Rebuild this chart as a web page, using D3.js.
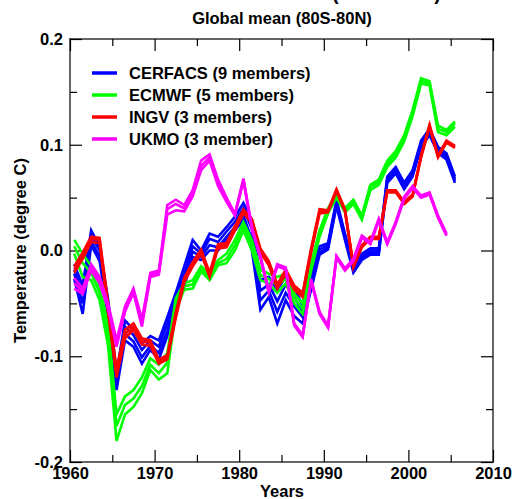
<!DOCTYPE html>
<html lang="en">
<head>
  <meta charset="UTF-8">
  <title>Global mean (80S-80N)</title>
  <script src="https://d3js.org/d3.v7.min.js"></script>
  <style>
    body { margin: 0; background: #fff; }
    text { font-family: Arial, "Liberation Sans", Helvetica, sans-serif; font-weight: bold; }
  </style>
</head>
<body>
<div id="chart"></div>

<script>
  // years (annual means, drawn at mid-year)
  var years = [1960, 1961, 1962, 1963, 1964, 1965, 1966, 1967, 1968, 1969,
    1970, 1971, 1972, 1973, 1974, 1975, 1976, 1977, 1978, 1979,
    1980, 1981, 1982, 1983, 1984, 1985, 1986, 1987, 1988, 1989,
    1990, 1991, 1992, 1993, 1994, 1995, 1996, 1997, 1998, 1999,
    2000, 2001, 2002, 2003, 2004, 2005];

  // CERFACS members (upper edge to lower edge)
  var cerfacs1 = [-0.013, -0.033, 0.019, 0.004, -0.046, -0.116, -0.066, -0.075, -0.088, -0.081,
    -0.085, -0.063, -0.040, -0.015, 0.010, 0.000, 0.016, 0.013, 0.022, 0.032,
    0.045, 0.029, -0.028, -0.025, -0.037, -0.025, -0.035, -0.052, -0.018, 0.004,
    0.007, 0.048, 0.016, -0.015, -0.003, 0.002, 0.002, 0.070, 0.079, 0.064,
    0.076, 0.104, 0.115, 0.098, 0.092, 0.070];
  var cerfacs2 = [-0.018, -0.040, 0.014, 0.000, -0.052, -0.121, -0.072, -0.080, -0.094, -0.085,
    -0.091, -0.069, -0.044, -0.022, 0.004, -0.003, 0.011, 0.008, 0.018, 0.027,
    0.040, 0.020, -0.038, -0.032, -0.048, -0.032, -0.044, -0.058, -0.024, 0.001,
    0.005, 0.046, 0.014, -0.017, -0.005, 0.000, 0.000, 0.068, 0.077, 0.062,
    0.074, 0.102, 0.113, 0.096, 0.090, 0.068];
  var cerfacs3 = [-0.022, -0.050, 0.009, -0.006, -0.058, -0.127, -0.079, -0.086, -0.101, -0.090,
    -0.097, -0.076, -0.049, -0.028, -0.001, -0.006, 0.005, 0.003, 0.013, 0.022,
    0.033, 0.010, -0.047, -0.038, -0.058, -0.040, -0.053, -0.063, -0.031, -0.002,
    0.003, 0.044, 0.012, -0.019, -0.007, -0.002, -0.002, 0.066, 0.075, 0.060,
    0.072, 0.100, 0.111, 0.094, 0.088, 0.066];
  var cerfacs4 = [-0.027, -0.060, 0.005, -0.010, -0.063, -0.132, -0.085, -0.091, -0.107, -0.094,
    -0.103, -0.081, -0.053, -0.034, -0.006, -0.009, 0.000, 0.000, 0.010, 0.019,
    0.029, 0.000, -0.056, -0.044, -0.069, -0.047, -0.062, -0.069, -0.037, -0.004,
    0.001, 0.042, 0.010, -0.021, -0.009, -0.004, -0.004, 0.064, 0.073, 0.058,
    0.070, 0.098, 0.109, 0.092, 0.086, 0.064];

  // ECMWF members
  var ecmwf1 = [0.010, -0.003, -0.015, -0.034, -0.070, -0.155, -0.138, -0.132, -0.120, -0.102,
    -0.108, -0.097, -0.045, -0.031, -0.028, -0.015, -0.022, -0.009, -0.003, 0.010,
    0.027, 0.010, -0.018, -0.022, -0.025, -0.022, -0.041, -0.050, -0.012, 0.019,
    0.040, 0.054, 0.040, 0.048, 0.033, 0.062, 0.067, 0.085, 0.094, 0.109,
    0.133, 0.163, 0.160, 0.118, 0.114, 0.122];
  var ecmwf2 = [0.004, -0.012, -0.021, -0.040, -0.080, -0.166, -0.146, -0.140, -0.128, -0.108,
    -0.116, -0.106, -0.050, -0.034, -0.032, -0.018, -0.025, -0.012, -0.008, 0.005,
    0.023, 0.005, -0.023, -0.027, -0.033, -0.027, -0.045, -0.055, -0.015, 0.016,
    0.038, 0.052, 0.038, 0.046, 0.031, 0.060, 0.065, 0.082, 0.091, 0.106,
    0.130, 0.161, 0.158, 0.115, 0.112, 0.120];
  var ecmwf3 = [-0.003, -0.025, -0.028, -0.047, -0.090, -0.180, -0.155, -0.148, -0.135, -0.113,
    -0.122, -0.116, -0.057, -0.037, -0.036, -0.020, -0.028, -0.014, -0.012, 0.000,
    0.019, 0.000, -0.028, -0.031, -0.040, -0.031, -0.050, -0.060, -0.019, 0.013,
    0.035, 0.050, 0.036, 0.044, 0.029, 0.057, 0.062, 0.079, 0.088, 0.103,
    0.127, 0.158, 0.156, 0.112, 0.109, 0.117];

  // INGV members
  var ingv1 = [-0.018, -0.005, 0.011, 0.010, -0.055, -0.116, -0.079, -0.072, -0.086, -0.087,
    -0.105, -0.101, -0.061, -0.028, -0.013, -0.001, -0.023, 0.004, 0.005, 0.021,
    0.037, 0.028, 0.000, -0.012, -0.034, -0.020, -0.035, -0.042, 0.000, 0.037,
    0.037, 0.057, 0.038, -0.015, 0.004, 0.012, 0.012, 0.056, 0.056, 0.045,
    0.052, 0.089, 0.118, 0.089, 0.103, 0.098];
  var ingv2 = [-0.015, -0.002, 0.013, 0.012, -0.050, -0.112, -0.075, -0.069, -0.083, -0.085,
    -0.103, -0.099, -0.059, -0.026, -0.011, 0.001, -0.021, 0.006, 0.007, 0.023,
    0.039, 0.030, 0.002, -0.010, -0.032, -0.018, -0.033, -0.040, 0.002, 0.039,
    0.038, 0.058, 0.039, -0.014, 0.005, 0.013, 0.013, 0.057, 0.057, 0.046,
    0.053, 0.090, 0.119, 0.090, 0.104, 0.099];
  var ingv3 = [-0.021, -0.008, 0.008, 0.007, -0.059, -0.120, -0.083, -0.075, -0.089, -0.090,
    -0.107, -0.103, -0.064, -0.030, -0.015, -0.003, -0.025, 0.002, 0.003, 0.019,
    0.035, 0.026, -0.002, -0.014, -0.036, -0.022, -0.037, -0.044, -0.002, 0.035,
    0.036, 0.056, 0.037, -0.016, 0.003, 0.011, 0.011, 0.055, 0.055, 0.044,
    0.051, 0.088, 0.117, 0.088, 0.102, 0.097];

  // UKMO members (stop in 2004)
  var ukmo1 = [-0.031, -0.039, -0.016, -0.028, -0.053, -0.088, -0.056, -0.038, -0.068, -0.023,
    -0.021, 0.039, 0.044, 0.040, 0.054, 0.080, 0.088, 0.064, 0.048, 0.034,
    0.067, 0.021, -0.006, -0.039, -0.014, -0.017, -0.070, -0.081, -0.028, -0.059,
    -0.072, -0.006, -0.018, -0.009, 0.013, 0.007, 0.029, 0.007, 0.026, 0.050,
    0.060, 0.051, 0.054, 0.032, 0.015];
  var ukmo2 = [-0.026, -0.036, -0.013, -0.025, -0.050, -0.085, -0.053, -0.036, -0.065, -0.021,
    -0.019, 0.043, 0.048, 0.043, 0.057, 0.085, 0.091, 0.067, 0.050, 0.035,
    0.068, 0.022, -0.005, -0.038, -0.013, -0.016, -0.069, -0.080, -0.027, -0.058,
    -0.071, -0.005, -0.017, -0.008, 0.014, 0.008, 0.030, 0.008, 0.027, 0.051,
    0.061, 0.052, 0.055, 0.033, 0.016];
  var ukmo3 = [-0.036, -0.041, -0.019, -0.031, -0.055, -0.091, -0.058, -0.040, -0.072, -0.025,
    -0.023, 0.034, 0.038, 0.037, 0.051, 0.076, 0.085, 0.061, 0.046, 0.033,
    0.066, 0.020, -0.007, -0.040, -0.015, -0.018, -0.071, -0.082, -0.029, -0.060,
    -0.073, -0.007, -0.019, -0.010, 0.012, 0.006, 0.028, 0.006, 0.025, 0.049,
    0.059, 0.050, 0.053, 0.031, 0.014];

  var models = ["CERFACS (9 members)", "ECMWF (5 members)", "INGV (3 members)", "UKMO (3 member)"];
  var colors = ["#0000ff", "#00ff00", "#ff0000", "#ff00ff"];
  var members = [
    [cerfacs1, cerfacs2, cerfacs3, cerfacs4],
    [ecmwf1, ecmwf2, ecmwf3],
    [ingv1, ingv2, ingv3],
    [ukmo1, ukmo2, ukmo3]
  ];

  var xTicks = [1960, 1970, 1980, 1990, 2000, 2010];
  var xMinor = [1965, 1975, 1985, 1995, 2005];
  var yTicks = [-0.2, -0.1, 0.0, 0.1, 0.2];
  var yMinor = [-0.15, -0.05, 0.05, 0.15];

  // size of the page and of the plot box
  var W = 514, H = 499;
  var margin = { top: 39, right: 21, bottom: 37, left: 70 },
    width = W - margin.left - margin.right,
    height = H - margin.top - margin.bottom;

  var svg = d3.select("#chart")
    .append("svg")
    .attr("width", W)
    .attr("height", H);

  // titles (first line is cut off by the top edge)
  svg.append("text")
    .attr("x", 441)
    .attr("y", 0)
    .attr("text-anchor", "end")
    .style("font-size", "20px")
    .text("Heat content (1960-2005)");

  svg.append("text")
    .attr("x", 282)
    .attr("y", 24)
    .attr("text-anchor", "middle")
    .style("font-size", "16.5px")
    .text("Global mean (80S-80N)");

  var g = svg.append("g")
    .attr("transform", "translate(" + margin.left + "," + margin.top + ")");

  var x = d3.scaleLinear()
    .domain([1960, 2010])
    .range([0, width]);

  var y = d3.scaleLinear()
    .domain([-0.2, 0.2])
    .range([height, 0]);

  // frame
  g.append("rect")
    .attr("width", width)
    .attr("height", height)
    .attr("fill", "none")
    .attr("stroke", "#666")
    .attr("stroke-width", 2);

  // bottom axis with labels, ticks pointing in
  var bottom = g.append("g")
    .attr("transform", "translate(0," + height + ")")
    .call(d3.axisBottom(x).tickValues(xTicks).tickSize(-12).tickPadding(5)
      .tickFormat(d3.format("d")));
  g.append("g")
    .attr("transform", "translate(0," + height + ")")
    .call(d3.axisBottom(x).tickValues(xMinor).tickSize(-7).tickFormat(""));

  // top axis, ticks only
  g.append("g")
    .call(d3.axisTop(x).tickValues(xTicks).tickSize(-12).tickFormat(""));
  g.append("g")
    .call(d3.axisTop(x).tickValues(xMinor).tickSize(-7).tickFormat(""));

  // left axis with labels
  var left = g.append("g")
    .call(d3.axisLeft(y).tickValues(yTicks).tickSize(-12).tickPadding(7)
      .tickFormat(function(d) { return d.toFixed(1); }));
  g.append("g")
    .call(d3.axisLeft(y).tickValues(yMinor).tickSize(-7).tickFormat(""));

  // right axis, ticks only
  g.append("g")
    .attr("transform", "translate(" + width + ",0)")
    .call(d3.axisRight(y).tickValues(yTicks).tickSize(-12).tickFormat(""));
  g.append("g")
    .attr("transform", "translate(" + width + ",0)")
    .call(d3.axisRight(y).tickValues(yMinor).tickSize(-7).tickFormat(""));

  g.selectAll(".domain").remove();
  g.selectAll(".tick line").attr("stroke", "#000").attr("stroke-width", 1.2);
  g.selectAll(".tick text")
    .attr("fill", "#000")
    .style("font-size", "16.5px")
    .style("font-family", "Arial, 'Liberation Sans', sans-serif")
    .style("font-weight", "bold");

  // axis titles
  svg.append("text")
    .attr("x", 282)
    .attr("y", 497)
    .attr("text-anchor", "middle")
    .style("font-size", "16.5px")
    .text("Years");

  svg.append("text")
    .attr("transform", "translate(26," + (margin.top + height / 2) + ") rotate(-90)")
    .attr("text-anchor", "middle")
    .style("font-size", "16.5px")
    .text("Temperature (degree C)");

  // member lines, one group per model
  var line = d3.line()
    .x(function(d, i) { return x(years[i] + 0.5); })
    .y(function(d) { return y(d); });

  members.forEach(function(set, m) {
    g.append("g")
      .selectAll("path")
      .data(set)
      .enter()
      .append("path")
      .attr("d", line)
      .attr("fill", "none")
      .attr("stroke", colors[m])
      .attr("stroke-width", 2.6)
      .attr("stroke-linejoin", "miter");
  });

  // legend
  var legend = g.append("g")
    .selectAll("g")
    .data(models)
    .enter()
    .append("g")
    .attr("transform", function(d, i) {
      return "translate(22," + (34 + i * 22) + ")";
    });

  legend.append("line")
    .attr("x1", 0)
    .attr("x2", 25)
    .attr("stroke", function(d, i) { return colors[i]; })
    .attr("stroke-width", 3.5);

  legend.append("text")
    .attr("x", 37)
    .attr("y", 5.5)
    .style("font-size", "16.5px")
    .text(function(d) { return d; });
</script>
</body>
</html>
